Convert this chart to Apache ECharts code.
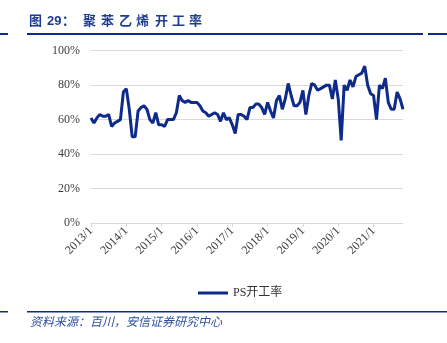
<!DOCTYPE html>
<html><head><meta charset="utf-8">
<script src="https://cdn.jsdelivr.net/npm/echarts@6/dist/echarts.min.js"></script>
<style>html,body{margin:0;padding:0;background:#fff}#c{width:447px;height:343px}</style>
</head><body><div id="c"></div>
<script>
// categories: monthly 2013/1 .. 2021/11
var categories = [];
for (var y = 2013; y <= 2021; y++) {
  for (var mo = 1; mo <= 12; mo++) {
    if (y === 2021 && mo > 11) break;
    categories.push(y + '/' + mo);
  }
}
var seriesName = 'PS开工率';
var psRate = [
  61,58,61,63,62,62,63,56,58,59,60,76,
  78,66,50,50,65,67,68,66,60,58,64,57,
  57,56,60,60,60,64,74,71,70,71,70,70,
  70,68,65,64,62,63,64,63,59,64,60,61,
  57,52,63,63,62,60,67,67,69,69,67,63,
  70,65,61,71,74,66,72,81,74,68,68,70,
  77,63,74,81,80,77,78,79,80,80,72,83,
  72,48,80,77,83,79,85,86,87,91,80,75,
  74,60,80,78,84,70,66,66,76,72,66
];
var yTicks = [0,20,40,60,80,100];
var titleChars = ['图','29','：','聚','苯','乙','烯','开','工','率'];
var titleX = [29,47,62,83,101,119,136,155,172,189];
var sourceText = '资料来源：百川，安信证券研究中心';

var navy = '#0e2a8a';
var titleColor = '#1f3c8e';
var graphics = [];
titleChars.forEach(function(ch, i){
  graphics.push({type:'text', left: titleX[i], top: 15, style:{text: ch, fill: titleColor,
    font: 'bold 13px "Liberation Sans","Noto Sans CJK SC",sans-serif'}});
});
graphics.push({type:'rect', shape:{x:0,y:33,width:8,height:2}, style:{fill:navy}});
graphics.push({type:'rect', shape:{x:27,y:33,width:396,height:2}, style:{fill:navy}});
graphics.push({type:'rect', shape:{x:428,y:33,width:19,height:2}, style:{fill:navy}});
graphics.push({type:'rect', shape:{x:0,y:311,width:8,height:1.5}, style:{fill:navy}});
graphics.push({type:'rect', shape:{x:27,y:311,width:420,height:1.5}, style:{fill:navy}});
graphics.push({type:'text', left: 30, top: 315, style:{text: sourceText, fill:'#2f4f9f',
  font: 'italic 12px "Noto Sans CJK SC",sans-serif'}});

var chart = echarts.init(document.getElementById('c'));
chart.setOption({
  animation: false,
  graphic: graphics,
  grid: {left: 91, right: 44, top: 50.7, bottom: 120, containLabel: false},
  legend: {
    data: [seriesName], left: 193, top: 282, icon: 'rect', itemWidth: 30, itemHeight: 3,
    itemGap: 4,
    textStyle: {fontFamily: '"Liberation Serif","Noto Sans CJK SC",serif', fontSize: 12, color: '#333'}
  },
  xAxis: {
    type: 'category', data: categories, boundaryGap: false,
    axisLine: {lineStyle: {color: '#d9d9d9', width: 1}},
    axisTick: {interval: 11, length: 4, lineStyle: {color: '#d9d9d9'}},
    axisLabel: {interval: 11, rotate: 45, margin: 6, color: '#404040', fontSize: 12,
      fontFamily: '"Liberation Serif",serif'},
    splitLine: {show: false}
  },
  yAxis: {
    type: 'value', min: yTicks[0], max: yTicks[yTicks.length-1], interval: 20,
    axisLine: {show: false}, axisTick: {show: false},
    axisLabel: {formatter: '{value}%', margin: 11, color: '#404040', fontSize: 12,
      fontFamily: '"Liberation Serif",serif'},
    splitLine: {lineStyle: {color: '#d9d9d9', width: 1}}
  },
  series: [{
    name: seriesName, type: 'line', data: psRate, symbol: 'none', smooth: false,
    lineStyle: {color: navy, width: 3}, itemStyle: {color: navy}
  }]
});
</script></body></html>
